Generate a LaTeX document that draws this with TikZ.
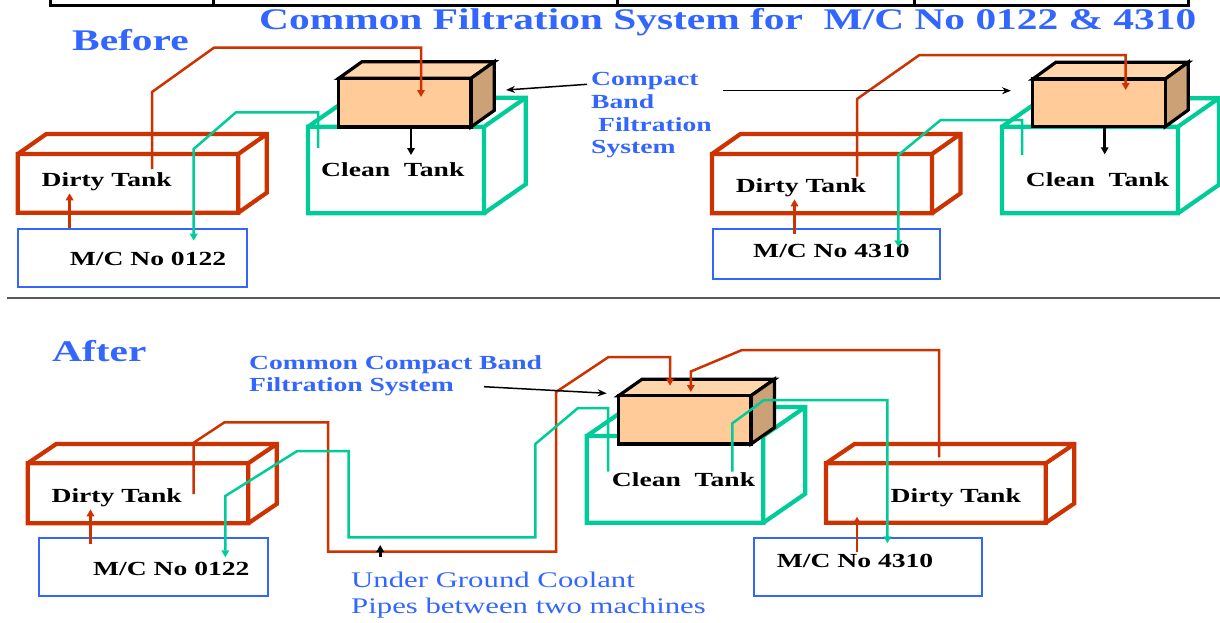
\documentclass[tikz,border=0pt]{standalone}
\usepackage{fontspec}
\setmainfont{Liberation Serif}[FakeStretch=1.38]
\usetikzlibrary{arrows.meta}
\definecolor{rust}{RGB}{204,51,0}
\definecolor{jade}{RGB}{0,204,153}
\definecolor{royal}{RGB}{51,102,255}
\definecolor{peach}{RGB}{255,204,153}
\definecolor{peachtop}{RGB}{255,214,172}
\definecolor{filterside}{RGB}{204,161,118}

\begin{document}
\begin{tikzpicture}[x=1pt,y=-1pt,
  flowtip/.style={-{Triangle[length=7pt,width=7.5pt]}},
  hotpipe/.style={rust,line width=2.5pt,flowtip},
  coolpipe/.style={jade,line width=2.5pt,flowtip},
  drop/.style={black,line width=2.8pt,flowtip},
  pointer/.style={black,line width=1.5pt,-{Stealth[length=9pt,width=7pt]}},
  mcbox/.style={draw=royal,line width=2pt,anchor=north west,inner sep=0pt},
  lbl/.style={anchor=base west,inner sep=0pt,font=\bfseries\fontsize{20}{24}\selectfont},
  bluelbl/.style={lbl,text=royal},
  heading/.style={lbl,text=royal,font=\bfseries\fontsize{30}{36}\selectfont},
  note/.style={anchor=base west,inner sep=0pt,text=royal,font=\fontsize{22.3}{26}\selectfont}]
\useasboundingbox (0,0) rectangle (1220,622);

\draw[line width=3pt] (50,-3) -- (50,5) -- (1188,5) -- (1188,-3);
\foreach \x in {213,617,914}
  \draw[line width=3pt] (\x,-3) -- (\x,5);
\draw[black!65,line width=1.5pt] (7,298) -- (1220,298);

\foreach \xa/\ya/\xb/\yb/\dx/\dy/\col in {
    17.8/154/238.3/212.7/28.5/20/rust, 308/126.7/484/213.3/41.7/29/jade,
    711.9/154/932/213.3/28.5/20/rust, 1002/126.7/1177.9/213.3/41/28.5/jade,
    27.7/463.3/248.2/523.3/28.5/19.3/rust, 586.7/436/763.3/522.7/42/29/jade,
    826/463.3/1045.8/522.7/28.5/19.3/rust}
  \draw[\col,line width=4.2pt] (\xa,\ya) rectangle (\xb,\yb)
    (\xa,\ya) -- ++(\dx,-\dy) -- (\xb+\dx,\ya-\dy) -- (\xb+\dx,\yb-\dy) -- (\xb,\yb)
    (\xb,\ya) -- ++(\dx,-\dy);

\foreach \xa/\ya/\xb/\yb/\dx/\dy in {
    338.7/78.3/471/127/23.3/16.6, 1032.8/79/1165.2/126.7/23/16.7,
    618.6/395.7/751/444/23.4/16.4} {
  \filldraw[fill=peachtop,line width=3.2pt] (\xa,\ya) -- ++(\dx,-\dy) -- (\xb+\dx,\ya-\dy) -- (\xb,\ya) -- cycle;
  \filldraw[fill=filterside,line width=3.2pt] (\xb,\ya) -- (\xb+\dx,\ya-\dy) -- (\xb+\dx,\yb-\dy) -- (\xb,\yb) -- cycle;
  \filldraw[fill=peach,line width=3.2pt] (\xa,\ya) rectangle (\xb,\yb);
}

\node[heading] (title) at (259,29.5) {Common Filtration System for\ \ M/C No 0122 \& 4310};
\node[heading] (before) at (72,50.7) {Before};
\node[heading] (after) at (52,361) {After};

% before
\node[lbl] (dirty1) at (41.5,186) {Dirty Tank};
\node[lbl] (clean1) at (321,176) {Clean\ \ Tank};
\node[mcbox,minimum width=228.8pt,minimum height=58pt] (mc1) at (17,227.7) {};
\node[lbl] (mc1txt) at (69.6,265) {M/C No 0122};
\node[lbl] (dirty2) at (735.6,192.7) {Dirty Tank};
\node[lbl] (clean2) at (1025.7,186) {Clean\ \ Tank};
\node[mcbox,minimum width=227.1pt,minimum height=50.6pt] (mc2) at (711.9,227.7) {};
\node[lbl] (mc2txt) at (753,257.7) {M/C No 4310};
\foreach \t/\xx/\yy [count=\i] in {Compact/591/85,Band/591/108.3,Filtration/598/131,System/591/153.7}
  \node[bluelbl] (cbfs\i) at (\xx,\yy) {\t};

\coordinate (out1) at (152,169);
\coordinate (in1) at (421,97);
\coordinate (ret1) at (318,148);
\coordinate (out2) at (857,176.7);
\coordinate (in2) at (1125.7,90);
\coordinate (ret2) at (1022,155);
\coordinate (flt1) at (506,90);
\coordinate (flt2) at (1011,90.7);

\draw[hotpipe] (out1) -- (152,92) -- (214,47.7) -- (421,47.7) -- (in1);
\draw[coolpipe] (ret1) -- (318,112.3) -- (236,112.3) -- (193.7,149) -- ([xshift=176.7pt]mc1.north west) -- ++(0,13);
\draw[hotpipe] ([xshift=52.6pt]mc1.north west) -- ++(0,-34.4);
\draw[drop] (411,127) -- ++(0,28);
\draw[hotpipe] (out2) -- (857,99) -- (919.4,55) -- (1125.7,55) -- (in2);
\draw[coolpipe] (ret2) -- (1022,120) -- (940.7,120) -- (898.4,155) -- ([xshift=186.5pt]mc2.north west) -- ++(0,19.6);
\draw[hotpipe] ([xshift=82.6pt,yshift=-6.6pt]mc2.north west) -- ++(0,-35);
\draw[drop] (1104.7,126.7) -- ++(0,27.6);
\draw[pointer] ([xshift=-4pt,yshift=0.7pt]cbfs1.base west) -- (flt1);
\draw[pointer] (722.5,90.7) -- (flt2);

% after
\node[bluelbl] (ccb1) at (249,369.3) {Common Compact Band};
\node[bluelbl] (ccb2) at (249,391.7) {Filtration System};
\node[lbl] (dirty3) at (51.4,502.7) {Dirty Tank};
\node[mcbox,minimum width=228.5pt,minimum height=57.7pt] (mc3) at (38.3,537.3) {};
\node[lbl] (mc3txt) at (92.9,575) {M/C No 0122};
\node[lbl] (clean3) at (611.7,486.7) {Clean\ \ Tank};
\node[lbl] (dirty4) at (890.5,502.7) {Dirty Tank};
\node[mcbox,minimum width=227.6pt,minimum height=57.7pt] (mc4) at (753,537.3) {};
\node[lbl] (mc4txt) at (776.7,567.7) {M/C No 4310};
\node[note] (ug1) at (351,587.3) {Under Ground Coolant};
\node[note] (ug2) at (351,613.3) {Pipes between two machines};

\coordinate (out3) at (193.7,494);
\coordinate (in3) at (670,385.7);
\coordinate (ret3) at (608,471.7);
\coordinate (out4) at (939,457.3);
\coordinate (in4) at (690.8,392);
\coordinate (ret4) at (732.4,471.7);
\coordinate (flt3) at (606.7,393.3);

\draw[hotpipe] (out3) -- (193.7,442.7) -- (224.5,422.3) -- (328,422.3) -- (328,551.7) -- (556,551.7)
  -- (556,392) -- (608.5,357) -- (670,357) -- (in3);
\draw[coolpipe] (ret3) -- (608,408) -- (578,408) -- (535.3,444) -- (535.3,537.3) -- (348.6,537.3)
  -- (348.6,451) -- (297.2,451) -- (225.3,496) -- ([xshift=187pt]mc3.north west) -- ++(0,20);
\draw[hotpipe] ([xshift=52.2pt,yshift=-7pt]mc3.north west) -- ++(0,-35);
\draw[hotpipe] (out4) -- (939,350) -- (742,350) -- (690.8,371.5) -- (in4);
\draw[coolpipe] (ret4) -- (732.4,423.3) -- (764,400) -- (887.4,400) -- ([xshift=134.4pt]mc4.north west) -- ++(0,6);
\draw[hotpipe] ([xshift=104pt,yshift=-14.4pt]mc4.north west) -- ++(0,-35);
\draw[drop] ([xshift=29.2pt,yshift=14.6pt]ug1.north west) -- (380.2,545);
\draw[pointer] (484,386.7) -- (flt3);
\end{tikzpicture}
\end{document}
